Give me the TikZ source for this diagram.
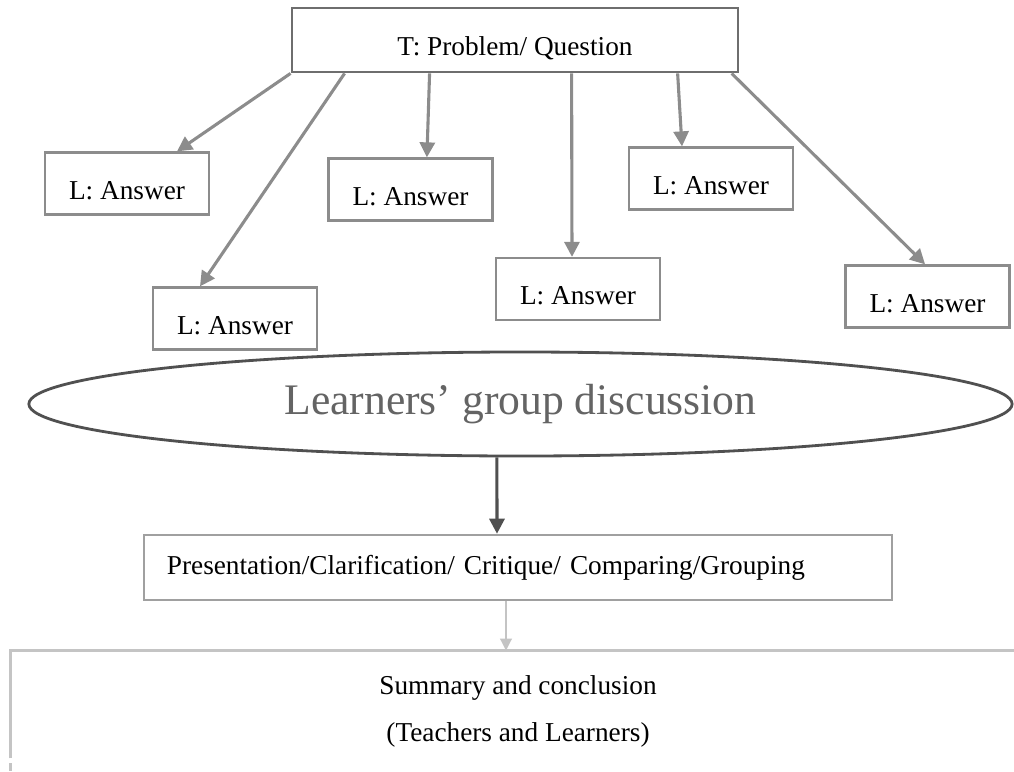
\documentclass[tikz,border=0pt]{standalone}
\usepackage{fontspec}
\setmainfont{Liberation Serif}
\usetikzlibrary{arrows.meta,shapes.geometric}
\definecolor{boxgray}{HTML}{8C8C8C}
\definecolor{topgray}{HTML}{6E6E6E}
\definecolor{linedark}{HTML}{505050}
\definecolor{textgray}{HTML}{646464}
\definecolor{presgray}{HTML}{A0A0A0}
\definecolor{lightline}{HTML}{C4C4C4}

\begin{document}
\begin{tikzpicture}[x=0.025cm, y=-0.025cm, >={Triangle[length=0.375cm,width=0.375cm]},
		font=\fontsize{19.4}{23}\selectfont,
		answer/.style={draw=boxgray, line width=1.6pt, minimum width=4.1cm, minimum height=1.55cm, inner sep=0pt, text height=0.78cm, text depth=0pt},
		askbox/.style={draw=topgray, line width=2pt, minimum width=11.15cm, minimum height=1.6cm, inner sep=0pt, text height=0.78cm, text depth=0pt},
		arr/.style={->, draw=boxgray, line width=2.2pt}]
	\useasboundingbox (0,0) rectangle (1014,771);

	% Teacher question
	\node[askbox] (quest) at (515,40) {T: Problem/ Question};

	% Learner answers
	\foreach \n/\x/\y in {1/127/183.5, 2/235/318.5, 3/410.5/189.5, 4/578/289, 5/711/178.5, 6/927.5/296.5} {
		\node[answer] (ans\n) at (\x,\y) {L: Answer};
	}
	\foreach \s/\n/\e in {0/1/1.25, 1.35/2/-0.875, 3.475/3/0.41, 7.025/4/-0.15, 9.675/5/-0.725, 11.025/6/-0.06} {
		\draw[arr] ([xshift=\s cm]quest.south west) -- ([xshift=\e cm]ans\n.north);
	}

	% Group discussion
	\node[ellipse, draw=linedark, line width=2pt, minimum width=24.575cm, minimum height=2.6cm, inner sep=0pt,
		text=textgray, font=\fontsize{31}{37}\selectfont] (disc) at (520.5,404) {Learners’ group discussion};

	% Presentation
	\node[draw=presgray, line width=1.8pt, minimum height=1.625cm, text width=17.55cm, inner xsep=0.575cm, align=left]
		(pres) at (518,567.5) {Presentation/Clarification/ Critique/ Comparing/Grouping};
	\draw[->, draw=linedark, line width=2.2pt] ([xshift=-0.59cm]disc.south) -- ([xshift=-0.525cm]pres.north);

	% Summary (box runs off the page)
	\node[minimum width=25.35cm, minimum height=3cm, inner sep=0pt, align=center,
		font=\fontsize{19.4}{33.4}\selectfont] (summ) at (518,711) {Summary and conclusion\\(Teachers and Learners)};
	\draw[draw=lightline, line width=2.2pt] ([yshift=0.325cm]summ.south west) -- (summ.north west) -- (summ.north east);
	\draw[draw=lightline, line width=2.2pt] ([yshift=0.2cm]summ.south west) -- (summ.south west);
	\draw[->, draw=lightline, line width=2pt, >={Triangle[length=0.3cm,width=0.28cm]}] ([xshift=-0.3cm]pres.south) -- ([xshift=-0.3cm]summ.north);
\end{tikzpicture}
\end{document}
